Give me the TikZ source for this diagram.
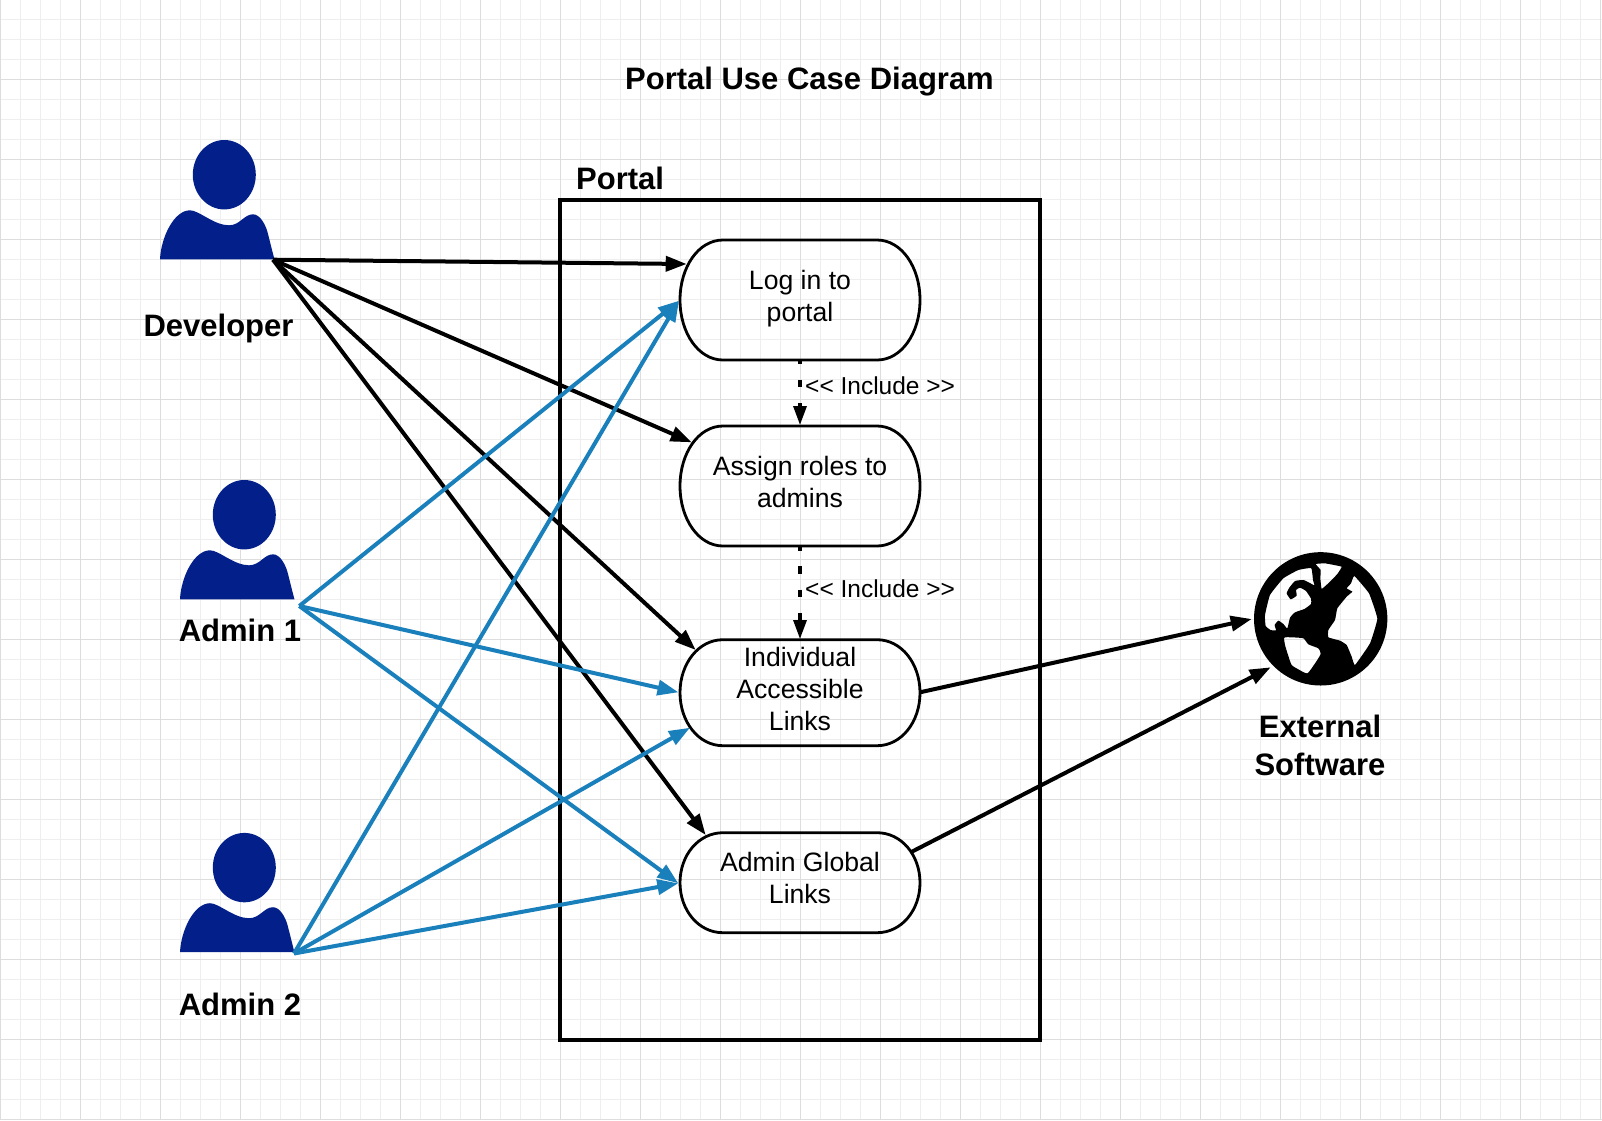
\documentclass[tikz,border=0pt]{standalone}
\usepackage{fontspec}
\setmainfont{Liberation Sans}
\usetikzlibrary{arrows.meta}
\definecolor{navyperson}{HTML}{03208A}
\definecolor{linkblue}{HTML}{1A80BB}
\definecolor{gridminor}{HTML}{EEEEEE}
\definecolor{gridmajor}{HTML}{DDDDDD}
\tikzset{
  heading/.style={font=\fontsize{31}{38}\selectfont\bfseries,inner sep=0pt,align=center},
  casetext/.style={font=\fontsize{26.6}{32}\selectfont,inner sep=0pt,align=center},
  caseline/.style={draw=black,line width=2.8pt},
  inclabel/.style={font=\fontsize{24.5}{29}\selectfont,inner sep=0pt,anchor=base west},
  blackarrow/.style={draw=black,line width=4pt,-{Triangle[length=21pt,width=15pt]}},
  bluearrow/.style={draw=linkblue,line width=4pt,-{Triangle[length=21pt,width=15pt]}},
  includearrow/.style={draw=black,line width=3.2pt,dash pattern=on 7.6pt off 15.7pt,dash phase=3.6pt,-{Triangle[length=19pt,width=13pt]}},
}
% person icon: #1 left end of the base, #2 base y
\newcommand{\personicon}[2]{%
  \begin{scope}[shift={(#1,#2)}]
    \fill[navyperson] (64.3,-84.6) ellipse [x radius=31.5,y radius=34.7];
    \fill[navyperson] (0,0) .. controls (1,-22) and (14,-49) .. (30,-49)
      .. controls (39,-49) and (54,-34) .. (69,-34)
      .. controls (80,-34) and (84,-45) .. (93,-45)
      .. controls (100,-45) and (105,-35) .. (107,-29)
      .. controls (109,-22) and (113,-5) .. (114.5,0) -- cycle;
  \end{scope}}
% use-case outline: #1 top, #2 bottom
\newcommand{\caseoutline}[2]{%
  \draw[caseline] (723,#1) -- (877,#1)
    .. controls (901.5,#1) and (920,{#1+0.225*(#2-#1)}) .. (920,{(#1+#2)/2})
    .. controls (920,{#2-0.225*(#2-#1)}) and (901.5,#2) .. (877,#2)
    -- (723,#2)
    .. controls (698.5,#2) and (680,{#2-0.225*(#2-#1)}) .. (680,{(#1+#2)/2})
    .. controls (680,{#1+0.225*(#2-#1)}) and (698.5,#1) .. (723,#1) -- cycle;}
\begin{document}
\begin{tikzpicture}[x=1pt,y=-1pt]
\useasboundingbox (0,0) rectangle (1602,1120);
\fill[white] (0,0) rectangle (1602,1120);
% grid
\foreach \i in {0,...,80} {\draw[gridminor,line width=1.2pt] ({20*\i+0.5},0) -- ({20*\i+0.5},1120);}
\foreach \i in {0,...,56} {\draw[gridminor,line width=1.2pt] (0,{20*\i-0.6}) -- (1602,{20*\i-0.6});}
\foreach \i in {0,...,20} {\draw[gridmajor,line width=1.2pt] ({80*\i+0.5},0) -- ({80*\i+0.5},1120);}
\foreach \i in {0,...,14} {\draw[gridmajor,line width=1.2pt] (0,{80*\i-0.6}) -- (1602,{80*\i-0.6});}

% titles
\node[heading,anchor=base] (title) at (809.5,89) {Portal Use Case Diagram};
\node[heading,anchor=base west] (portallabel) at (576,189) {Portal};
\draw[black,line width=3.6pt] (560,199.7) rectangle (1040,1039.7);

% actors
\personicon{160}{259.3}
\personicon{180}{599.3}
\personicon{180}{952.2}
\node[heading,anchor=base] (developer) at (218.5,336) {Developer};
\node[heading,anchor=base] (admina) at (240,641.7) {Admin 1};
\node[heading,anchor=base] (adminb) at (240,1015.7) {Admin 2};
\coordinate (devout) at (273,259.7);
\coordinate (aout) at (299.3,606);
\coordinate (bout) at (294,953.5);

% use cases
\caseoutline{240}{360}
\caseoutline{426}{546}
\caseoutline{639.7}{745.7}
\caseoutline{832.7}{932.7}
\node[casetext] (login) at (800,298.4) {Log in to\\portal};
\node[casetext] (assign) at (800,482) {Assign roles to\\admins};
\node[casetext] (indiv) at (800,689) {Individual\\Accessible\\Links};
\node[casetext] (global) at (800,878.4) {Admin Global\\Links};
\coordinate (loginbottom) at (800,360);
\coordinate (assigntop) at (800,425);
\coordinate (assignbottom) at (800,546.5);
\coordinate (indivtop) at (800,639);
\coordinate (loginA) at (686.7,264);
\coordinate (loginB) at (679,300.7);
\coordinate (assignA) at (691.7,442.3);
\coordinate (indivA) at (695.7,650);
\coordinate (indivB) at (678.5,692.3);
\coordinate (indivC) at (690,727.7);
\coordinate (indivR) at (920,692.3);
\coordinate (globalA) at (705.7,835);
\coordinate (globalB) at (678.3,883.3);
\coordinate (globalR) at (910.7,852.3);

% globe
\begin{scope}[shift={(1250,550)},x=0.33333pt,y=-0.33333pt]
  \fill[black,even odd rule] (212,206.5) circle [radius=200]
    % top
    plot[smooth cycle,tension=0.15] coordinates {(197,42)(225,40)(275,50)(262,72)(240,95)(215,117)(211,85)(212,60)}
    % right
    plot[smooth cycle,tension=0.2] coordinates {(313,78)(357,130)(382,206)(360,280)(315,345)(305,320)(290,285)(270,272)(235,262)(235,240)(255,210)(262,175)(290,140)(307,125)(290,115)(303,100)}
    % south
    plot[smooth cycle,tension=0.35] coordinates {(103,263)(125,262)(160,265)(175,283)(205,295)(212,312)(195,340)(172,370)(145,358)(125,345)(115,318)(105,285)}
    % left
    plot[smooth cycle,tension=0.25] coordinates {(47,228)(45,195)(60,135)(100,85)(145,60)(183,54)(187,72)(189,90)(193,106)(178,98)(160,90)(135,93)(118,113)(110,130)(122,148)(140,137)(138,120)(150,113)(168,123)(183,146)(183,162)(163,177)(135,187)(120,203)(112,235)(100,222)(85,212)(74,225)(78,241)(62,240)};
\end{scope}
\coordinate (globeA) at (1251.7,619);
\coordinate (globeB) at (1270.7,667.3);
\node[heading] (external) at (1320,745.8) {External\\Software};

% include links
\draw[includearrow] (loginbottom) -- (assigntop);
\draw[includearrow] (assignbottom) -- (indivtop);
\node[inclabel] (inca) at (805,394) {<{}< Include >{}>};
\node[inclabel] (incb) at (805,597.3) {<{}< Include >{}>};

% connectors
\draw[blackarrow] (devout) -- (loginA);
\draw[blackarrow] (devout) -- (assignA);
\draw[blackarrow] (devout) -- (indivA);
\draw[blackarrow] (devout) -- (globalA);
\draw[bluearrow] (aout) -- (loginB);
\draw[bluearrow] (aout) -- (indivB);
\draw[bluearrow] (aout) -- (globalB);
\draw[bluearrow] (bout) -- (loginB);
\draw[bluearrow] (bout) -- (indivC);
\draw[bluearrow] (bout) -- (globalB);
\draw[blackarrow] (indivR) -- (globeA);
\draw[blackarrow] (globalR) -- (globeB);
\end{tikzpicture}
\end{document}
